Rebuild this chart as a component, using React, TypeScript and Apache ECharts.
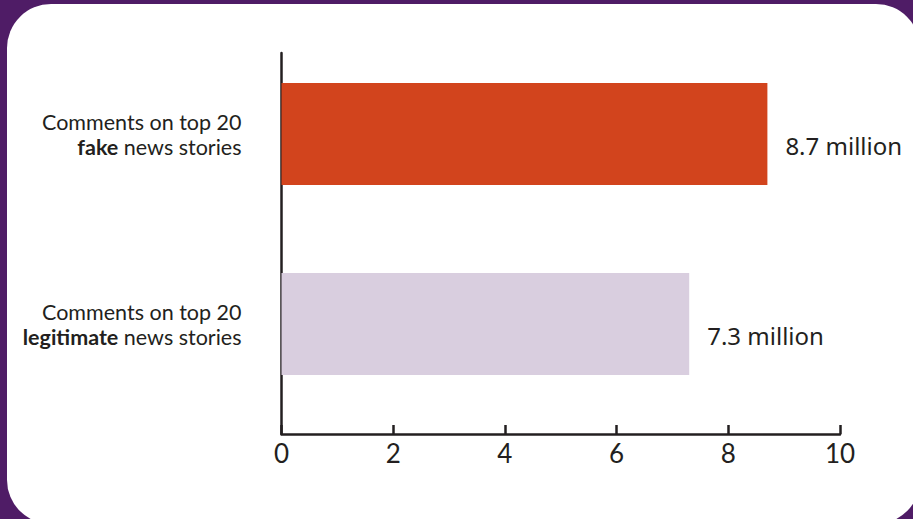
import React, { useEffect, useRef } from "react";
import * as echarts from "echarts";

const categories = ["fake", "legitimate"];
const values = [8.7, 7.3];
const valueLabels = ["8.7 million", "7.3 million"];
const barColors = ["#D2441D", "#D9CEDF"];
const axisMin = 0;
const axisMax = 10;
const axisInterval = 2;

const FONT = "Lato, 'Noto Sans', sans-serif";
const VFONT = "'Noto Sans', Lato, sans-serif";
const INK = "#231F20";

export default function App() {
  const ref = useRef<HTMLDivElement>(null);
  useEffect(() => {
    if (!ref.current) return;
    const chart = echarts.init(ref.current, undefined, { renderer: "svg" });
    const left = 281.5;
    const right = 73;
    chart.setOption({
      animation: false,
      backgroundColor: "#4F1C66",
      graphic: [
        {
          type: "rect",
          z: -10,
          silent: true,
          shape: { x: 7, y: 4, width: 913, height: 520, r: 44 },
          style: { fill: "#ffffff" },
        },
      ],
      grid: [
        { left, right, top: 39, bottom: 100, containLabel: false },
        { left, right, top: 53, bottom: 85, containLabel: false },
      ],
      xAxis: [
        {
          gridIndex: 0,
          type: "value",
          min: axisMin,
          max: axisMax,
          interval: axisInterval,
          show: false,
        },
        {
          gridIndex: 1,
          type: "value",
          min: axisMin,
          max: axisMax,
          interval: axisInterval,
          axisLine: { show: true, lineStyle: { color: INK, width: 2.5 } },
          axisTick: { show: true, inside: true, length: 9, lineStyle: { color: INK, width: 2.5 } },
          axisLabel: {
            show: true,
            color: INK,
            fontFamily: FONT,
            fontSize: 26,
            margin: 6,
          },
          splitLine: { show: false },
        },
      ],
      yAxis: [
        {
          gridIndex: 0,
          type: "category",
          inverse: true,
          data: categories,
          axisLine: { show: false },
          axisTick: { show: false },
          axisLabel: {
            margin: 40,
            align: "right",
            lineHeight: 25,
            formatter: (v: string) => `{n|Comments on top 20}\n{b|${v}}{n| news stories}`,
            rich: {
              n: { fontFamily: FONT, fontSize: 21.5, color: INK, lineHeight: 25, align: "right" },
              b: { fontFamily: FONT, fontSize: 21.5, fontWeight: "bold", color: INK, lineHeight: 25, align: "right" },
            },
          },
        },
        {
          gridIndex: 1,
          type: "value",
          min: 0,
          max: 1,
          axisLine: { show: true, lineStyle: { color: INK, width: 2.5 } },
          axisTick: { show: false },
          axisLabel: { show: false },
          splitLine: { show: false },
        },
      ],
      series: [
        {
          type: "bar",
          xAxisIndex: 0,
          yAxisIndex: 0,
          barWidth: 102,
          data: values.map((v, i) => ({ value: v, itemStyle: { color: barColors[i] } })),
          label: {
            show: true,
            position: "right",
            distance: 18,
            offset: [0, 11],
            fontFamily: VFONT,
            fontSize: 24,
            color: INK,
            formatter: (p: any) => valueLabels[p.dataIndex],
          },
        },
      ],
    });
    return () => chart.dispose();
  }, []);
  return (
    <div
      ref={ref}
      style={{ position: "fixed", left: 0, top: 0, width: 913, height: 519 }}
    />
  );
}
